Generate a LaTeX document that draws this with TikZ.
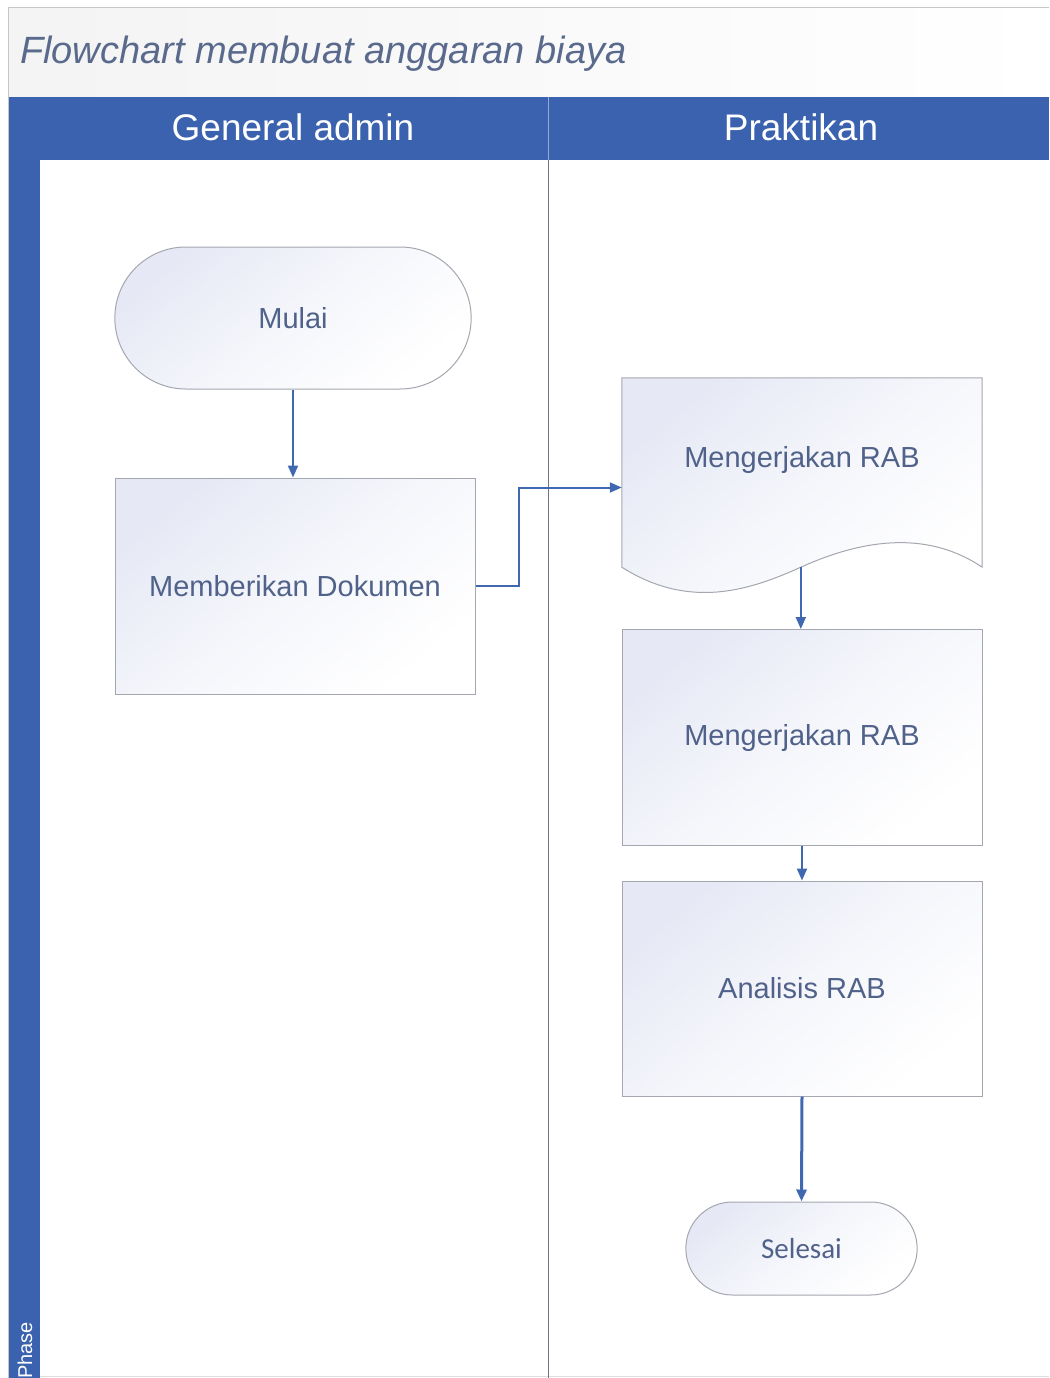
\documentclass[tikz,border=0pt]{standalone}
\usepackage{fontspec}
\setmainfont{Liberation Sans}
\newfontfamily\calibrifont{Carlito}
\usetikzlibrary{arrows.meta,shapes.misc,calc}

\definecolor{laneblue}{HTML}{3B62AE}
\definecolor{labelgray}{HTML}{50628A}
\definecolor{titlegray}{HTML}{5A6A8C}
\definecolor{edgegray}{HTML}{A4A7B0}
\definecolor{flowblue}{HTML}{4068B0}
\definecolor{tint}{HTML}{E6E9F5}
\definecolor{divider}{HTML}{6E7484}

\tikzset{
  shapefill/.style={shading=axis, top color=tint, bottom color=white, middle color=white!60!tint, shading angle=40},
  procbox/.style={rectangle, draw=edgegray, line width=1pt, shapefill,
    minimum width=360pt, minimum height=216pt, text=labelgray,
    font=\fontsize{29}{34}\selectfont},
  terminal/.style={rounded rectangle, draw=edgegray, line width=1pt, shapefill,
    text=labelgray, font=\fontsize{29}{34}\selectfont},
  flow/.style={draw=flowblue, line width=2pt, -{Triangle[length=12pt,width=10pt]}},
  lanehead/.style={text=white, font=\fontsize{37}{42}\selectfont, anchor=base}
}

\begin{document}
\begin{tikzpicture}[x=1pt,y=-1pt]
\useasboundingbox (0,0) rectangle (1049,1378);

% title strip
\shade[left color=gray!9, right color=white] (8,8) rectangle (1049,97);
\node[anchor=base west, inner sep=0pt, text=titlegray,
      font=\fontsize{38}{44}\selectfont\itshape] (title) at (20,64)
      {Flowchart membuat anggaran biaya};

% swimlane frame
\fill[laneblue] (8,97) rectangle (1049,160);
\fill[laneblue] (8,97) rectangle (40,1378);
\draw[gray!45, line width=1pt] (1049,8) -- (8,8) -- (8,1378);
\draw[gray!25, line width=1pt] (40,1376) -- (1049,1376);
\draw[divider, line width=1pt] (548,160) -- (548,1378);
\draw[laneblue!55!white, line width=1pt] (548,97) -- (548,160);

\node[lanehead] (laneA) at (293,140) {General admin};
\node[lanehead] (laneB) at (801,140) {Praktikan};
\node[text=white, font=\fontsize{20}{24}\selectfont, rotate=90,
      anchor=base east, inner sep=0pt] (phase) at (32,1322) {Phase};

% General admin lane
\node[terminal, minimum width=363pt, minimum height=142pt] (start) at (293,318) {Mulai};
\node[procbox] (give) at (295,586) {Memberikan Dokumen};

% Praktikan lane: document shape
\node[minimum width=360pt, minimum height=189pt, inner sep=0pt] (doc) at (802,472.5) {};
\shade[shapefill, draw=edgegray, line width=1pt]
  (doc.north west) -- (doc.north east) -- (doc.south east)
  .. controls ($(doc.south west)+(298,-42)$) and ($(doc.south west)+(228,-22)$)
  .. ($(doc.south west)+(179,0)$)
  .. controls ($(doc.south west)+(128,23)$) and ($(doc.south west)+(68,43)$)
  .. (doc.south west) -- cycle;
\coordinate (docout) at ($(doc.south west)+(179,0)$);
\node[text=labelgray, font=\fontsize{29}{34}\selectfont] (doctext)
  at ($(doc.center)+(0,-13)$) {Mengerjakan RAB};

\node[procbox] (work) at (802,737.5) {Mengerjakan RAB};
\node[procbox, minimum height=215pt] (anal) at (802,988.5) {Analisis RAB};
\node[terminal, minimum width=238pt, minimum height=93pt,
      font=\calibrifont\fontsize{29}{34}\selectfont] (finish) at (801.5,1248.5) {Selesai};

% connectors
\draw[flow] (start.south) -- (start.south |- give.north);
\draw[flow] (give.east) -- ($(give.east)+(43,0)$) |- ($(doc.west)+(0,15)$);
\draw[flow] (docout) -- (work.north -| docout);
\draw[flow] (work.south) -- (anal.north);
\draw[flow, line width=3pt] (anal.south) -- (finish.north);
\end{tikzpicture}
\end{document}
